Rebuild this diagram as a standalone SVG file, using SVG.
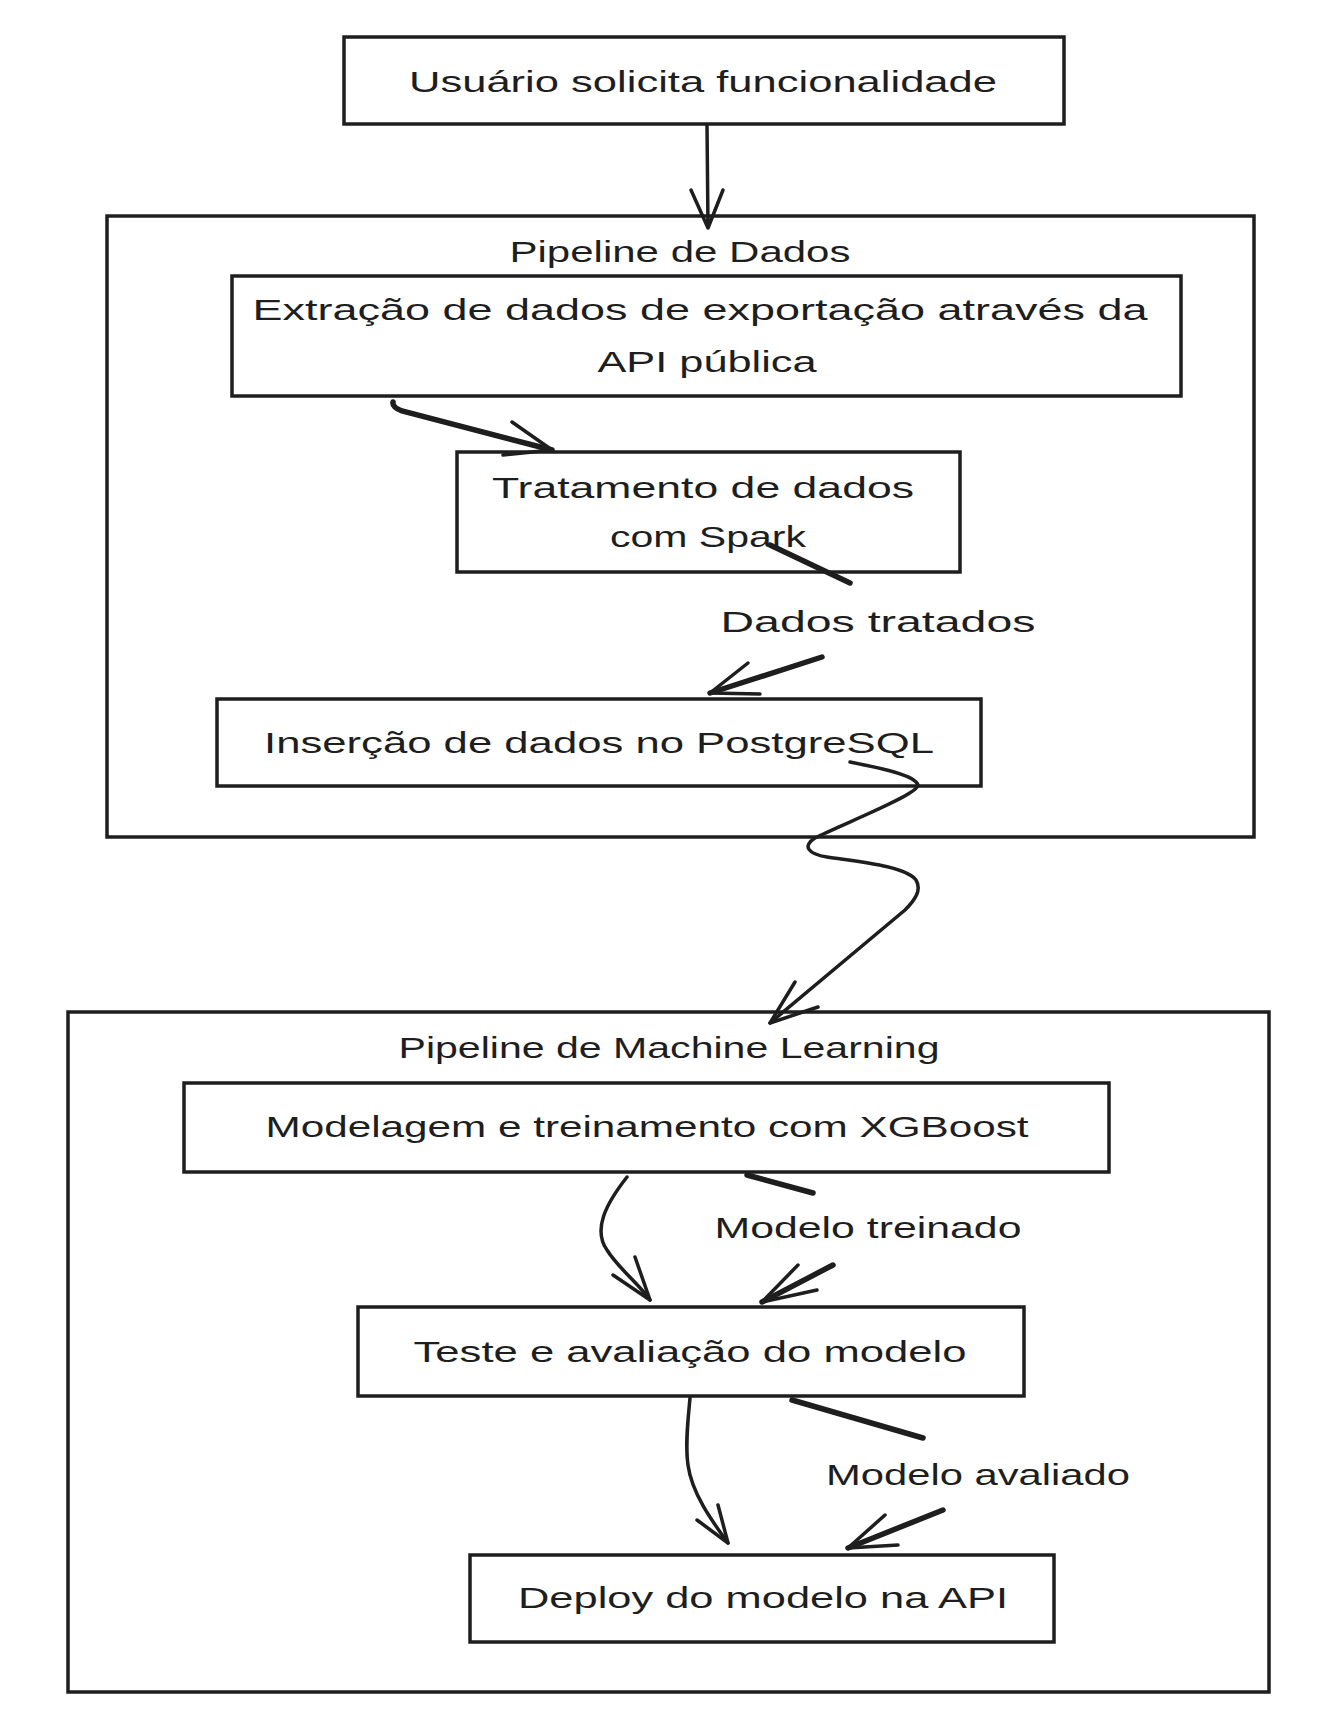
<svg xmlns="http://www.w3.org/2000/svg" width="1330" height="1724" viewBox="0 0 1330 1724">
<style>
.box{fill:#fff;stroke:#1e1e1e;stroke-width:3.5}
.cont{fill:none;stroke:#1e1e1e;stroke-width:3.5}
.t{font-family:"Liberation Sans",Arial,sans-serif;font-size:30px;fill:#1e1e1e;text-anchor:middle}
.c{fill:none;stroke:#1e1e1e;stroke-width:3.5;stroke-linecap:round;stroke-linejoin:round}
.k{fill:none;stroke:#1e1e1e;stroke-width:5.5;stroke-linecap:round}
</style>
<rect width="1330" height="1724" fill="#fff"/>
<g id="pipeline-dados">
<rect class="cont" x="107" y="216" width="1147" height="621"/>
<text class="t" x="680" y="262" textLength="341" lengthAdjust="spacingAndGlyphs">Pipeline de Dados</text>
</g>
<g id="pipeline-ml">
<rect class="cont" x="68" y="1012" width="1201" height="680"/>
<text class="t" x="669" y="1058" textLength="541" lengthAdjust="spacingAndGlyphs">Pipeline de Machine Learning</text>
</g>
<g id="usuario">
<rect class="box" x="344" y="37" width="720" height="87"/>
<text class="t" x="703" y="92" textLength="588" lengthAdjust="spacingAndGlyphs">Usuário solicita funcionalidade</text>
</g>
<g id="extracao">
<rect class="box" x="232" y="276" width="949" height="120"/>
<text class="t" x="700" y="320" textLength="895" lengthAdjust="spacingAndGlyphs">Extração de dados de exportação através da</text>
<text class="t" x="707" y="372" textLength="219" lengthAdjust="spacingAndGlyphs">API pública</text>
</g>
<g id="tratamento">
<rect class="box" x="457" y="452" width="503" height="120"/>
<text class="t" x="703" y="498" textLength="422" lengthAdjust="spacingAndGlyphs">Tratamento de dados</text>
<text class="t" x="708" y="547" textLength="196" lengthAdjust="spacingAndGlyphs">com Spark</text>
</g>
<g id="insercao">
<rect class="box" x="217" y="699" width="764" height="87"/>
<text class="t" x="599" y="753" textLength="670" lengthAdjust="spacingAndGlyphs">Inserção de dados no PostgreSQL</text>
</g>
<g id="modelagem">
<rect class="box" x="184" y="1083" width="925" height="89"/>
<text class="t" x="647" y="1137" textLength="763" lengthAdjust="spacingAndGlyphs">Modelagem e treinamento com XGBoost</text>
</g>
<g id="teste">
<rect class="box" x="358" y="1307" width="666" height="89"/>
<text class="t" x="690" y="1362" textLength="553" lengthAdjust="spacingAndGlyphs">Teste e avaliação do modelo</text>
</g>
<g id="deploy">
<rect class="box" x="470" y="1555" width="584" height="87"/>
<text class="t" x="763" y="1608" textLength="490" lengthAdjust="spacingAndGlyphs">Deploy do modelo na API</text>
</g>
<g id="connectors">
<path class="c" d="M707 125 L708 228 M691 190 L708 228 L723 190"/>
<path class="k" d="M393 402 Q392 407 402 411 L552 450"/>
<path class="c" d="M512 422 L552 450 L503 455"/>
<path class="k" d="M770 545 L850 583"/>
<path class="k" d="M822 657 L710 693"/>
<path class="c" d="M748 663 L710 693 L760 694"/>
<text class="t" x="878" y="632" textLength="315" lengthAdjust="spacingAndGlyphs">Dados tratados</text>
<path class="c" d="M850 762 C880 768 915 775 918 785 C918 795 840 825 815 838 C802 846 808 854 827 857 C860 862 905 866 916 880 C922 890 915 900 905 910 L770 1023"/>
<path class="c" d="M795 982 L770 1023 L818 1007"/>
<path class="c" d="M627 1177 C605 1205 593 1230 607 1250 C618 1268 640 1285 650 1300"/>
<path class="c" d="M613 1275 L650 1300 L635 1257"/>
<path class="k" d="M747 1175 L813 1193"/>
<path class="k" d="M833 1265 L762 1302"/>
<path class="c" d="M798 1265 L762 1302 L817 1290"/>
<text class="t" x="868" y="1238" textLength="307" lengthAdjust="spacingAndGlyphs">Modelo treinado</text>
<path class="c" d="M690 1398 C688 1420 685 1445 688 1465 C692 1495 715 1525 728 1543"/>
<path class="c" d="M697 1520 L728 1543 L718 1505"/>
<path class="k" d="M792 1400 L923 1438"/>
<path class="k" d="M943 1510 L848 1548"/>
<path class="c" d="M885 1515 L848 1548 L898 1545"/>
<text class="t" x="978" y="1485" textLength="304" lengthAdjust="spacingAndGlyphs">Modelo avaliado</text>
</g>
</svg>
